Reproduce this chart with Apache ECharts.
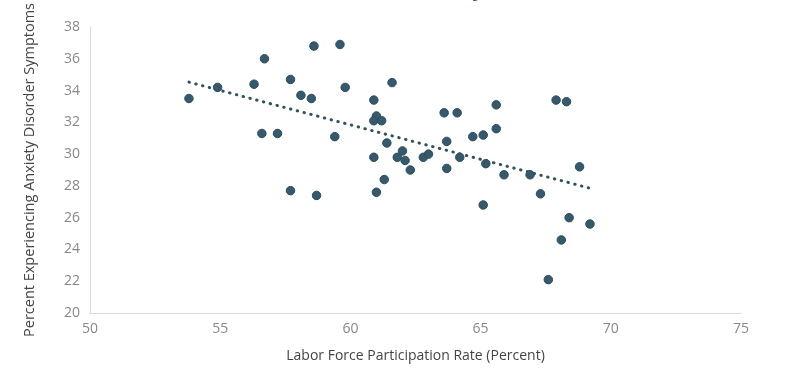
<!DOCTYPE html>
<html>
<head>
<meta charset="utf-8">
<script src="https://cdn.jsdelivr.net/npm/echarts@6/dist/echarts.min.js"></script>
<style>html,body{margin:0;padding:0;background:#fff}#c{width:800px;height:374px}</style>
</head>
<body>
<div id="c"></div>
<script>
const titleText = "Labor Force and Anxiety";
const xAxisName = "Labor Force Participation Rate (Percent)";
const yAxisName = "Percent Experiencing Anxiety Disorder Symptoms";
const participationRate = [53.8,54.9,56.3,56.7,56.6,57.2,57.7,57.7,58.1,58.5,58.6,58.7,59.6,59.4,59.8,60.9,60.9,61.0,60.9,61.2,61.4,62.0,61.8,62.1,62.3,61.3,61.0,61.6,62.8,63.0,63.6,64.1,63.7,63.7,64.2,64.7,65.1,65.6,65.6,65.2,65.9,66.9,67.9,68.3,68.8,67.3,65.1,68.4,69.2,68.1,67.6];
const anxietyRate = [33.5,34.2,34.4,36.0,31.3,31.3,34.7,27.7,33.7,33.5,36.8,27.4,36.9,31.1,34.2,33.4,29.8,32.4,32.1,32.1,30.7,30.2,29.8,29.6,29.0,28.4,27.6,34.5,29.8,30.0,32.6,32.6,30.8,29.1,29.8,31.1,31.2,33.1,31.6,29.4,28.7,28.7,33.4,33.3,29.2,27.5,26.8,26.0,25.6,24.6,22.1];

const pts = participationRate.map((x,i)=>[x, anxietyRate[i]]);
// least-squares trend line
const n = pts.length;
let sx=0, sy=0, sxx=0, sxy=0;
pts.forEach(([x,y])=>{sx+=x;sy+=y;sxx+=x*x;sxy+=x*y;});
const slope = (n*sxy - sx*sy)/(n*sxx - sx*sx);
const icpt = (sy - slope*sx)/n;
const xmin = Math.min(...participationRate), xmax = Math.max(...participationRate);
const trend = [[xmin, icpt+slope*xmin],[xmax, icpt+slope*xmax]];

const font = "'Open Sans', sans-serif";
const chart = echarts.init(document.getElementById('c'), null, {renderer:'canvas'});
chart.setOption({
  animation:false,
  title:{text:titleText, right:311, top:-25, textStyle:{fontFamily:font, fontSize:20, fontWeight:'bold', color:'#2f4f5f'}},
  grid:{left:90, right:59, top:27, bottom:61},
  xAxis:{type:'value', min:50, max:75, interval:5,
    name:xAxisName, nameLocation:'middle', nameGap:36,
    nameTextStyle:{fontFamily:font, fontSize:14, color:'#444'},
    axisLine:{show:true, lineStyle:{color:'#d9d9d9', width:1}},
    axisTick:{show:false}, splitLine:{show:false},
    axisLabel:{fontFamily:font, fontSize:14, color:'#888', margin:9}},
  yAxis:{type:'value', min:20, max:38, interval:2,
    name:yAxisName, nameLocation:'middle', nameGap:53,
    nameTextStyle:{fontFamily:font, fontSize:14.5, color:'#444'},
    axisLine:{show:true, lineStyle:{color:'#d9d9d9', width:1}},
    axisTick:{show:false}, splitLine:{show:false},
    axisLabel:{fontFamily:font, fontSize:14, color:'#888', margin:10}},
  series:[
    {type:'line', data:trend, symbol:'none', silent:true, z:1,
     lineStyle:{color:'#33515f', width:3, type:[0.5,6.5], cap:'round'}},
    {type:'scatter', data:pts, symbolSize:8.5, z:2,
     itemStyle:{color:'#37596c', opacity:1, borderColor:'#2c4c5e', borderWidth:1}}
  ]
});
</script>
</body>
</html>
